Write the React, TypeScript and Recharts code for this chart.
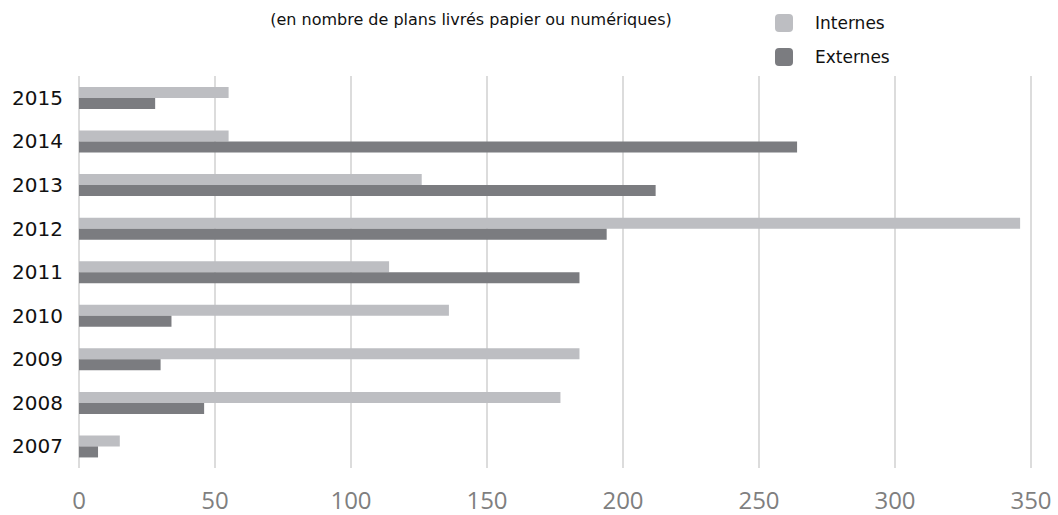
import React from 'react';
import { Bar, BarChart, CartesianGrid, XAxis, YAxis } from 'recharts';

const years = ['2015', '2014', '2013', '2012', '2011', '2010', '2009', '2008', '2007'];
const internes = [55, 55, 126, 346, 114, 136, 184, 177, 15];
const externes = [28, 264, 212, 194, 184, 34, 30, 46, 7];
const xTicks = [0, 50, 100, 150, 200, 250, 300, 350];

const subtitle = '(en nombre de plans livrés papier ou numériques)';

const INT_COLOR = '#bdbec2';
const EXT_COLOR = '#7b7c80';
const labelFont = '"DejaVu Sans", sans-serif';

const chartData = years.map((year, i) => ({
  year,
  internes: internes[i],
  externes: externes[i],
}));

const legendItems = [
  { name: 'Internes', color: INT_COLOR },
  { name: 'Externes', color: EXT_COLOR },
];

// legend drawn as plain html so it does not eat into the plot height
const LegendBox = () => (
  <div
    style={{
      position: 'absolute',
      left: 775,
      top: 6,
      fontFamily: labelFont,
      fontSize: 17,
      color: '#111',
    }}
  >
    {legendItems.map((item) => (
      <div key={item.name} style={{ display: 'flex', alignItems: 'center', height: 34 }}>
        <span
          style={{
            width: 18,
            height: 18,
            borderRadius: 4,
            background: item.color,
            display: 'inline-block',
            marginRight: 22,
          }}
        />
        <span>{item.name}</span>
      </div>
    ))}
  </div>
);

export default function App() {
  return (
    <div style={{ position: 'absolute', left: 0, top: 0, width: 1058, height: 515, background: '#fff' }}>
      <div
        style={{
          position: 'absolute',
          left: 0,
          width: 942,
          top: 10,
          textAlign: 'center',
          fontFamily: labelFont,
          fontSize: 16,
          color: '#111',
          lineHeight: '20px',
        }}
      >
        {subtitle}
      </div>
      <LegendBox />
      <BarChart
        width={1058}
        height={515}
        data={chartData}
        layout="vertical"
        margin={{ top: 76, right: 27, bottom: 0, left: 0 }}
        barSize={11}
        barGap={0}
      >
        <CartesianGrid horizontal={false} stroke="#dcdcdc" strokeWidth={2} />
        <XAxis
          type="number"
          domain={[0, 350]}
          ticks={xTicks}
          height={47}
          axisLine={false}
          tickLine={false}
          tickSize={0}
          tickMargin={24}
          tick={{ fill: '#7f7f7f', fontSize: 24, fontFamily: '"Open Sans", sans-serif' }}
        />
        <YAxis
          type="category"
          dataKey="year"
          width={79}
          axisLine={false}
          tickLine={false}
          tickSize={0}
          tickMargin={16}
          tick={{ fill: '#111', fontSize: 20, fontFamily: labelFont }}
        />
        <Bar dataKey="internes" name="Internes" fill={INT_COLOR} isAnimationActive={false} />
        <Bar dataKey="externes" name="Externes" fill={EXT_COLOR} isAnimationActive={false} />
      </BarChart>
    </div>
  );
}
